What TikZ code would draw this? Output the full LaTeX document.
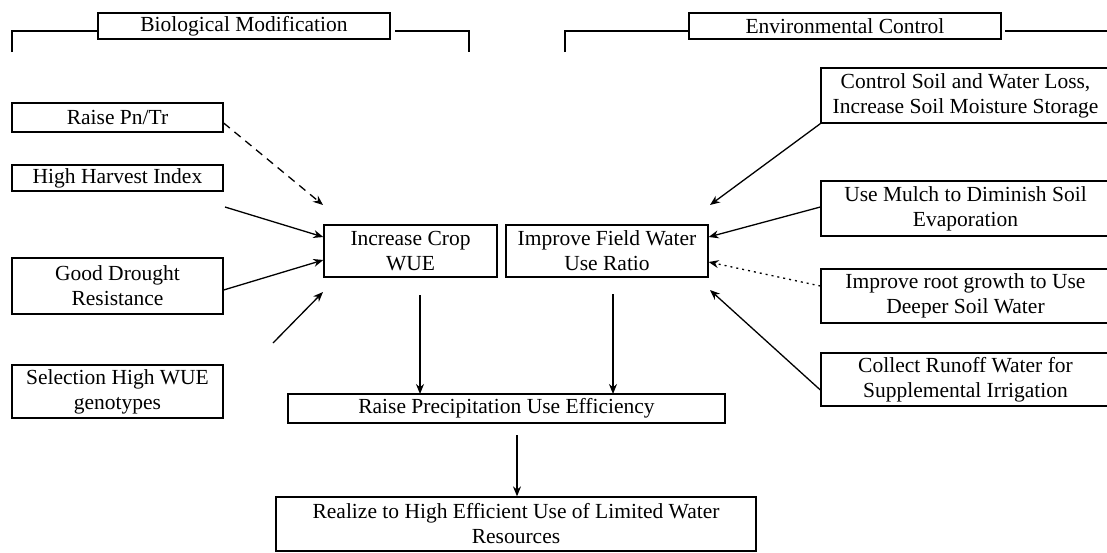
\documentclass[tikz,border=0pt]{standalone}
\usepackage{fontspec}
\setmainfont{Liberation Serif}
\usetikzlibrary{arrows.meta}
\begin{document}
\begin{tikzpicture}[x=1pt,y=-1pt,
  box/.style={draw, line width=1.3pt, inner sep=0pt, align=center,
    font=\fontsize{21.5}{25}\selectfont},
  lbox/.style={box, minimum width=211pt},
  rbox/.style={box, minimum width=289pt},
  arr/.style={line width=1.3pt, -{Stealth[length=10pt,width=8pt]}},
  brk/.style={line width=1.3pt},
]
\useasboundingbox (0,0) rectangle (1107,552);
\clip (0,0) rectangle (1107,552);

% headers
\node[box, minimum width=292pt, minimum height=26pt] (bio) at (244,26) {Biological Modification};
\node[box, minimum width=312pt, minimum height=26pt] (env) at (845,26) {Environmental Control};
\coordinate (bl1) at (12,52);
\coordinate (bl2) at (12,31);
\coordinate (bl3) at (98,31);
\coordinate (bl4) at (395,31);
\coordinate (bl5) at (469,31);
\coordinate (bl6) at (469,52);
\coordinate (br1) at (565,52);
\coordinate (br2) at (565,31);
\coordinate (br3) at (689,31);
\coordinate (br4) at (1005,31);
\coordinate (br5) at (1107,31);
\draw[brk] (bl1) -- (bl2) -- (bl3);
\draw[brk] (bl4) -- (bl5) -- (bl6);
\draw[brk] (br1) -- (br2) -- (br3);
\draw[brk] (br4) -- (br5);

% left boxes
\node[lbox, minimum height=29pt] (pn) at (117.5,117.5) {Raise Pn/Tr};
\node[lbox, minimum height=26pt] (hhi) at (117.5,178) {High Harvest Index};
\node[lbox, minimum height=56pt] (gdr) at (117.5,286) {Good Drought\\Resistance};
\node[lbox, minimum height=53pt] (sel) at (117.5,391.5) {Selection High WUE\\genotypes};

% centre boxes
\node[box, minimum width=173pt, minimum height=52pt] (icw) at (410.5,251) {Increase Crop\\WUE};
\node[box, minimum width=202pt, minimum height=52pt] (ifw) at (607,251) {Improve Field Water\\Use Ratio};
\node[box, minimum width=437pt, minimum height=29pt] (rpe) at (506.5,408.5) {Raise Precipitation Use Efficiency};
\node[box, minimum width=480pt, minimum height=54pt] (real) at (516,524) {Realize to High Efficient Use of Limited Water\\Resources};

% right boxes
\node[rbox, minimum height=55pt] (csw) at (965.5,95.5) {Control Soil and Water Loss,\\Increase Soil Moisture Storage};
\node[rbox, minimum height=55pt] (mul) at (965.5,208.5) {Use Mulch to Diminish Soil\\Evaporation};
\node[rbox, minimum height=54pt] (root) at (965.5,296) {Improve root growth to Use\\Deeper Soil Water};
\node[rbox, minimum height=53pt] (col) at (965.5,379.5) {Collect Runoff Water for\\Supplemental Irrigation};

% free ends
\coordinate (pnT) at (323,205);
\coordinate (hhiS) at (225,207);
\coordinate (selS) at (273,343);
\coordinate (selT) at (323,292);
\coordinate (cswT) at (710,205);
\coordinate (colT) at (710,290);
\coordinate (icwS) at (420,295);
\coordinate (icwT) at (420,394);
\coordinate (ifwS) at (613,294);
\coordinate (ifwT) at (613,394);
\coordinate (rpeS) at (517,435);

% left arrows
\draw[arr, dash pattern=on 8pt off 6pt] ([yshift=-5.5pt]pn.east) -- (pnT);
\draw[arr] (hhiS) -- ([yshift=14pt]icw.west);
\draw[arr] ([yshift=-4pt]gdr.east) -- ([yshift=-9pt]icw.west);
\draw[arr] (selS) -- (selT);

% right arrows
\draw[arr] (csw.south west) -- (cswT);
\draw[arr] ([yshift=1.5pt]mul.west) -- ([yshift=14pt]ifw.east);
\draw[arr, dash pattern=on 2pt off 4pt] ([yshift=10pt]root.west) -- ([yshift=-11pt]ifw.east);
\draw[arr] ([yshift=-10.5pt]col.west) -- (colT);

% down arrows
\draw[arr] (icwS) -- (icwT);
\draw[arr] (ifwS) -- (ifwT);
\draw[arr] (rpeS) -- (real.north -| rpeS);
\end{tikzpicture}
\end{document}
